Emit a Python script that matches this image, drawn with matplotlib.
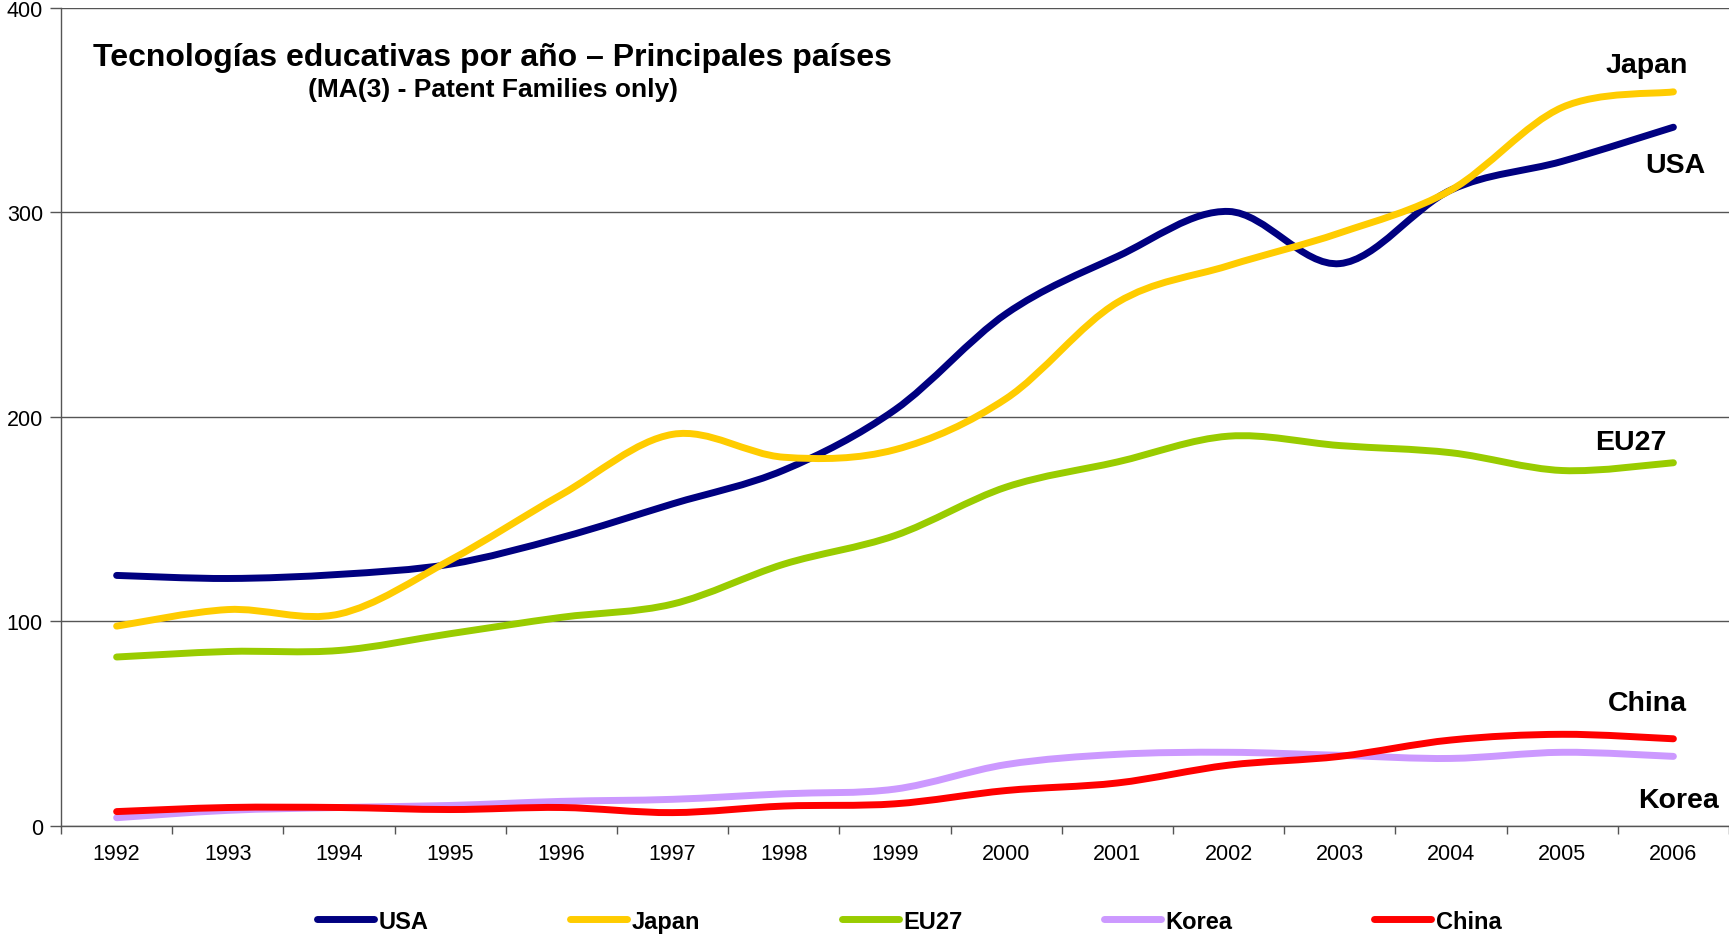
import numpy as np
import matplotlib
matplotlib.use("Agg")
import matplotlib.pyplot as plt
from matplotlib.path import Path
from matplotlib.patches import PathPatch
from matplotlib.lines import Line2D

plt.rcParams["font.family"] = ["Liberation Sans", "DejaVu Sans"]

years = [str(y) for y in range(1992, 2007)]

usa = [122.5, 121, 123, 128, 141, 157.5, 174, 203.5, 250.5, 278.5, 300.5, 275, 311, 325, 341.7]
japan = [97.7, 105.8, 103.6, 130, 162, 191.5, 180.3, 184, 209, 256, 274, 290, 311, 351.4, 359]
eu27 = [82.6, 85.3, 85.8, 94, 102, 108.5, 128, 142, 165.7, 178, 190.6, 186, 182.5, 173.8, 177.6]
korea = [4, 7.6, 9, 10, 12, 13, 15.7, 18, 30, 35, 36, 34.5, 33, 36, 34]
china = [7, 9, 9, 8, 9, 6.5, 9.7, 10.8, 17.3, 21, 29.7, 34, 42, 44.8, 42.6]

series = [
    ("USA", usa, "#000080", (1.5, -27)),
    ("Japan", japan, "#FFCC00", (-19, 19.5)),
    ("EU27", eu27, "#99CC00", (-31, 15)),
    ("Korea", korea, "#CC99FF", (4, -31.5)),
    ("China", china, "#FF0000", (-19, 26)),
]


def smooth_path(x, y):
    # Excel-like smoothed line: Catmull-Rom as cubic Bezier segments
    p = np.column_stack([x, y]).astype(float)
    pp = np.vstack([p[0], p, p[-1]])
    verts = [p[0]]
    codes = [Path.MOVETO]
    for i in range(len(p) - 1):
        p0, p1, p2, p3 = pp[i], pp[i + 1], pp[i + 2], pp[i + 3]
        verts += [p1 + (p2 - p0) / 6, p2 - (p3 - p1) / 6, p2]
        codes += [Path.CURVE4] * 3
    return Path(verts, codes)


fig = plt.figure(figsize=(17.29, 9.37), dpi=100)
ax = fig.add_axes([0.0353, 0.1175, 0.9647, 0.8729])

x = np.arange(len(years))
for name, vals, color, off in series:
    patch = PathPatch(smooth_path(x, vals), fill=False, edgecolor=color,
                      linewidth=5, capstyle="round", joinstyle="round", zorder=3)
    ax.add_patch(patch)
    ax.annotate(name, (x[-1], vals[-1]), xytext=off, textcoords="offset points",
                ha="center", va="center", fontsize=20.5, fontweight="bold")

ax.set_xlim(-0.5, len(years) - 0.5)
ax.set_ylim(0, 400)
ax.set_yticks([0, 100, 200, 300, 400])
ax.set_xticks(x)
ax.set_xticklabels(years)
ax.set_xticks(np.arange(len(years) + 1) - 0.5, minor=True)
ax.tick_params(axis="x", which="major", length=0, pad=12, labelsize=15.5)
ax.tick_params(axis="x", which="minor", length=6, width=1, color="#555555", direction="out")
ax.tick_params(axis="y", length=8, width=1, color="#555555", pad=5, labelsize=15.5)
ax.yaxis.grid(True, color="#555555", linewidth=1)
ax.set_axisbelow(True)
for s in ["top", "right"]:
    ax.spines[s].set_visible(False)
for s in ["left", "bottom"]:
    ax.spines[s].set_color("#555555")
    ax.spines[s].set_linewidth(1)

fig.text(0.2846, 0.9385, "Tecnologías educativas por año – Principales países",
         ha="center", va="center", fontsize=23, fontweight="bold")
fig.text(0.285, 0.904, "(MA(3) - Patent Families only)",
         ha="center", va="center", fontsize=19, fontweight="bold")

handles = [Line2D([], [], color=c, lw=5, solid_capstyle="round") for _, _, c, _ in series]
fig.legend(handles, [n for n, _, _, _ in series], loc="center", bbox_to_anchor=(0.526, 0.016),
           ncol=5, frameon=False, handlelength=2.4, handletextpad=0.2, columnspacing=6.0,
           borderpad=0, prop={"weight": "bold", "size": 17})

fig.savefig("out.png", dpi=100)
